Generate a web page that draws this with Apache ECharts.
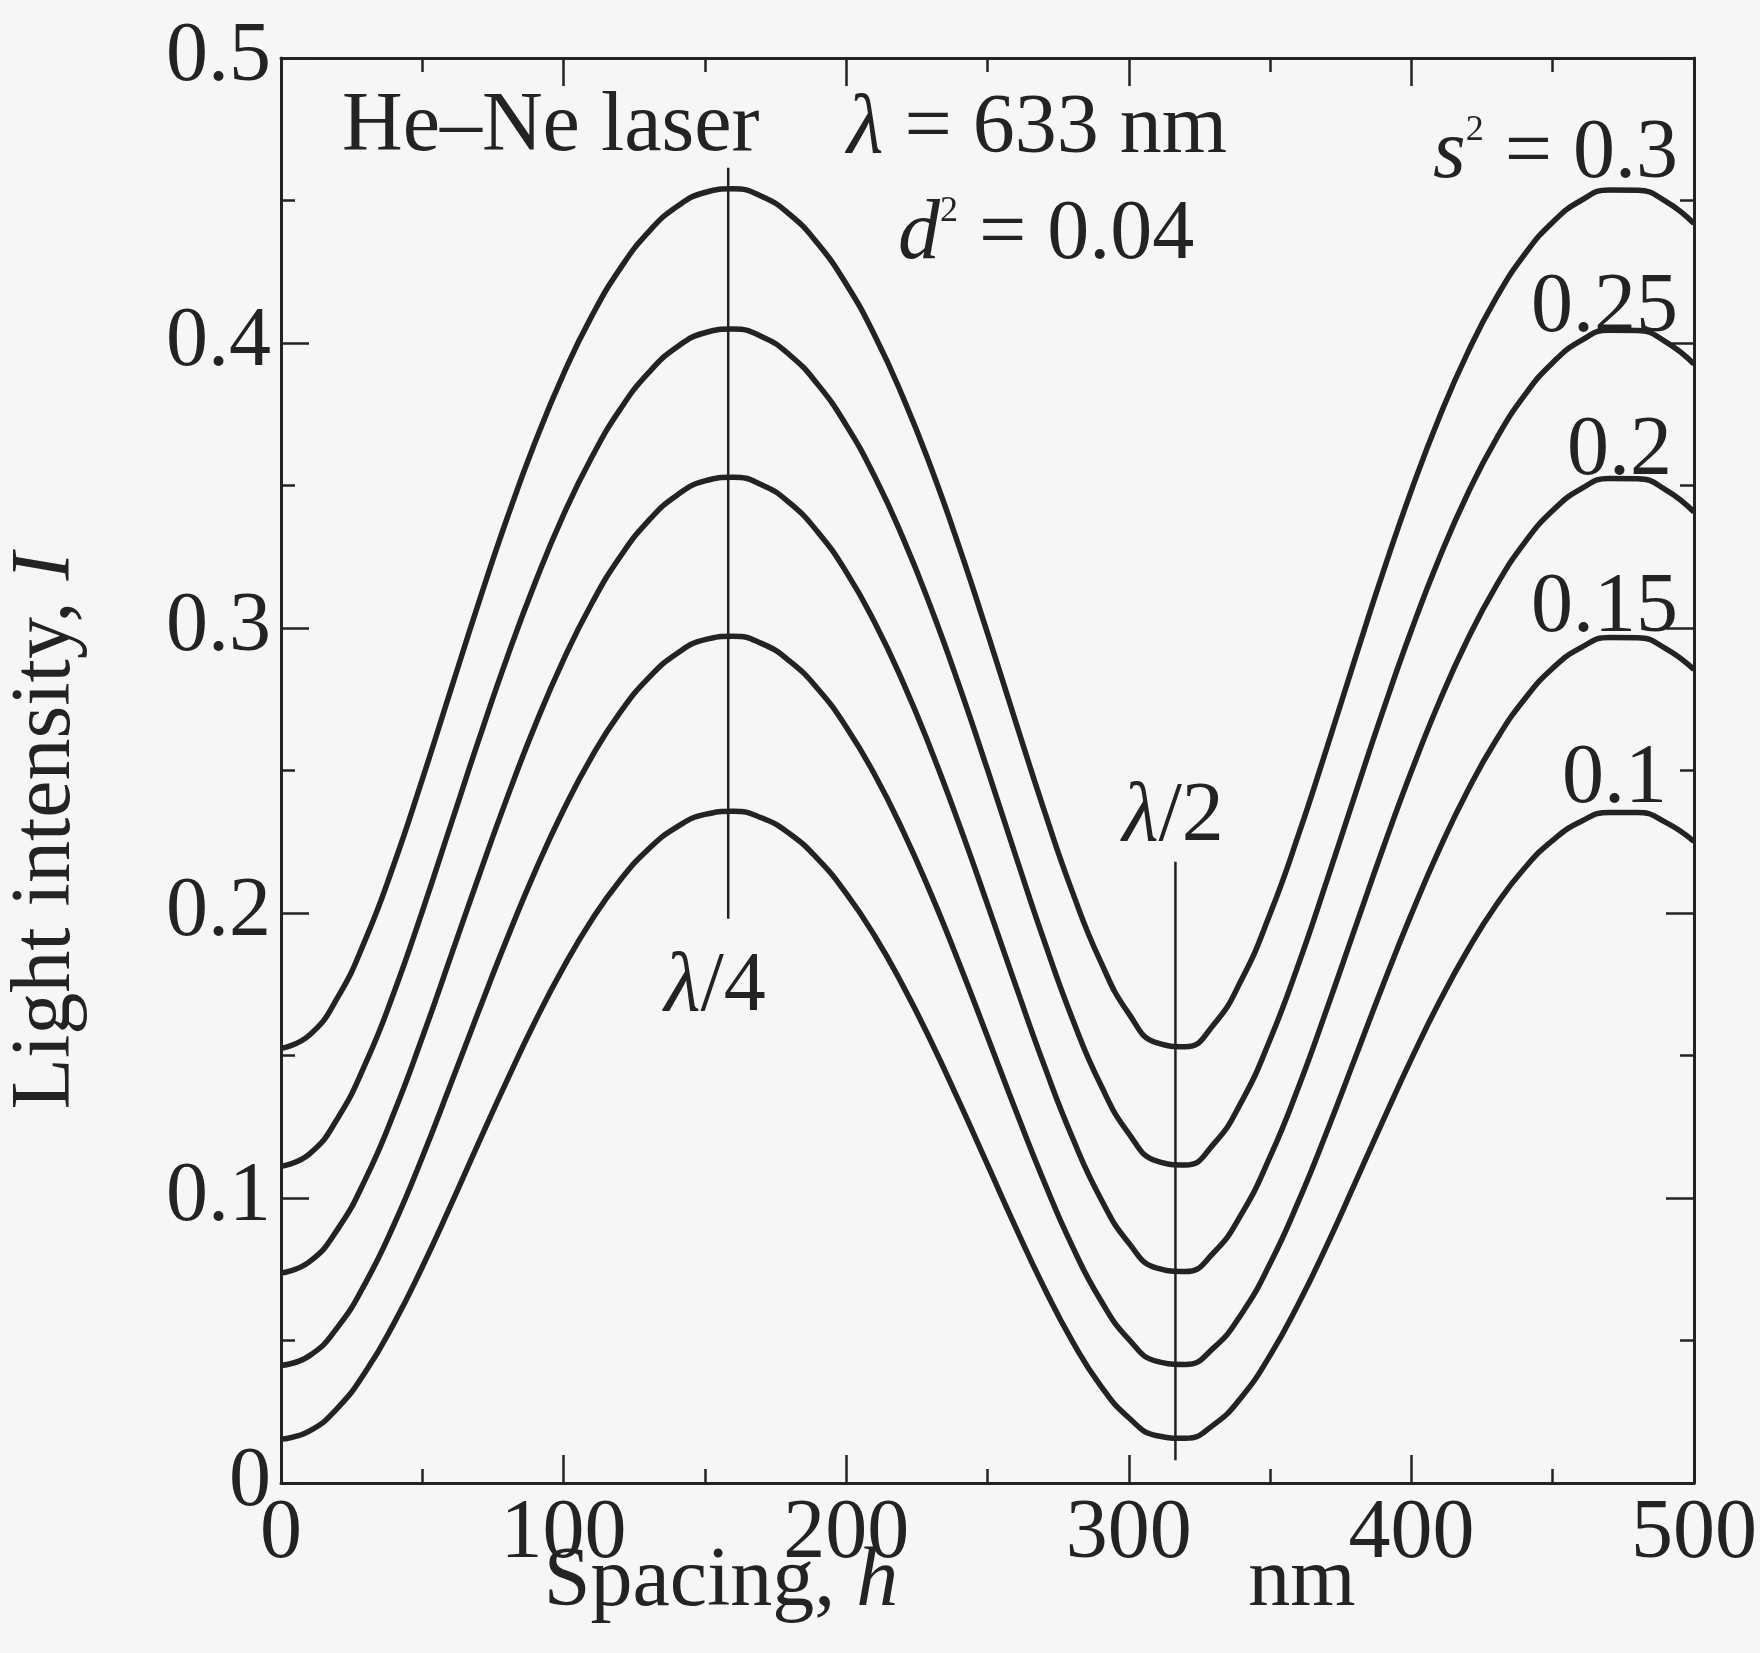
<!DOCTYPE html>
<html>
<head>
<meta charset="utf-8">
<script src="https://cdn.jsdelivr.net/npm/echarts@6/dist/echarts.min.js"></script>
<style>
  html, body { margin: 0; padding: 0; background: #f6f6f6; }
  #chart { width: 1760px; height: 1653px; }
</style>
</head>
<body>
<div id="chart"></div>
<script>
// spacing h (nm) and light intensity I for each s^2
var spacing = [0, 10, 20, 30, 40, 50, 60, 70, 80, 90, 100, 110, 120, 130, 140, 150,
  160, 170, 180, 190, 200, 210, 220, 230, 240, 250, 260, 270, 280, 290, 300, 310,
  320, 330, 340, 350, 360, 370, 380, 390, 400, 410, 420, 430, 440, 450, 460, 470,
  480, 490, 500];

var s30 = [0.1525, 0.1571, 0.1703, 0.1910, 0.2172, 0.2469, 0.2780, 0.3090, 0.3385,
  0.3654, 0.3892, 0.4095, 0.4261, 0.4389, 0.4478, 0.4528, 0.4541, 0.4515, 0.4451,
  0.4348, 0.4207, 0.4028, 0.3812, 0.3563, 0.3284, 0.2982, 0.2670, 0.2362, 0.2075,
  0.1830, 0.1647, 0.1544, 0.1531, 0.1608, 0.1768, 0.1997, 0.2273, 0.2577, 0.2890,
  0.3196, 0.3483, 0.3742, 0.3968, 0.4158, 0.4310, 0.4424, 0.4500, 0.4537, 0.4536,
  0.4497, 0.4419];
var s25 = [0.1111, 0.1154, 0.1279, 0.1474, 0.1722, 0.2006, 0.2307, 0.2608, 0.2896,
  0.3161, 0.3398, 0.3600, 0.3767, 0.3895, 0.3985, 0.4036, 0.4049, 0.4023, 0.3958,
  0.3854, 0.3712, 0.3533, 0.3318, 0.3071, 0.2797, 0.2503, 0.2200, 0.1904, 0.1630,
  0.1398, 0.1226, 0.1129, 0.1116, 0.1189, 0.1340, 0.1556, 0.1819, 0.2111, 0.2413,
  0.2711, 0.2992, 0.3248, 0.3473, 0.3663, 0.3816, 0.3931, 0.4008, 0.4045, 0.4044,
  0.4004, 0.3926];
var s20 = [0.0737, 0.0776, 0.0890, 0.1069, 0.1299, 0.1563, 0.1845, 0.2129, 0.2404,
  0.2660, 0.2889, 0.3087, 0.3250, 0.3376, 0.3465, 0.3516, 0.3529, 0.3503, 0.3439,
  0.3336, 0.3197, 0.3021, 0.2812, 0.2573, 0.2310, 0.2030, 0.1745, 0.1467, 0.1213,
  0.0999, 0.0842, 0.0754, 0.0742, 0.0808, 0.0946, 0.1145, 0.1388, 0.1661, 0.1945,
  0.2228, 0.2497, 0.2744, 0.2962, 0.3148, 0.3299, 0.3412, 0.3488, 0.3525, 0.3524,
  0.3485, 0.3407];
var s15 = [0.0412, 0.0446, 0.0546, 0.0704, 0.0907, 0.1143, 0.1398, 0.1657, 0.1910,
  0.2148, 0.2362, 0.2549, 0.2704, 0.2824, 0.2910, 0.2959, 0.2971, 0.2946, 0.2884,
  0.2786, 0.2653, 0.2487, 0.2290, 0.2067, 0.1823, 0.1566, 0.1307, 0.1058, 0.0831,
  0.0642, 0.0504, 0.0427, 0.0416, 0.0474, 0.0595, 0.0770, 0.0987, 0.1231, 0.1489,
  0.1748, 0.1996, 0.2226, 0.2431, 0.2607, 0.2750, 0.2859, 0.2931, 0.2967, 0.2966,
  0.2928, 0.2854];
var s10 = [0.0154, 0.0182, 0.0263, 0.0392, 0.0561, 0.0758, 0.0973, 0.1195, 0.1413,
  0.1621, 0.1810, 0.1976, 0.2115, 0.2224, 0.2301, 0.2346, 0.2357, 0.2334, 0.2278,
  0.2189, 0.2069, 0.1921, 0.1746, 0.1550, 0.1337, 0.1117, 0.0896, 0.0686, 0.0498,
  0.0342, 0.0229, 0.0166, 0.0157, 0.0204, 0.0303, 0.0448, 0.0628, 0.0832, 0.1051,
  0.1272, 0.1488, 0.1690, 0.1871, 0.2028, 0.2157, 0.2255, 0.2321, 0.2353, 0.2353,
  0.2318, 0.2251];

// the lambda/4 and lambda/2 marker lines
var quarterLine = [[158.25, 0.198], [158.25, 0.4615]];
var halfLine = [[316.5, 0.008], [316.5, 0.218]];

var curveNames = ['0.3', '0.25', '0.2', '0.15', '0.1'];
var curveValues = [s30, s25, s20, s15, s10];

var FONT = '"Liberation Serif", "Times New Roman", serif';
var INK = '#232323';

function pairs(ys) {
  return spacing.map(function (h, i) { return [h, ys[i]]; });
}

var chart = echarts.init(document.getElementById('chart'));

var series = curveValues.map(function (ys, i) {
  return {
    name: curveNames[i],
    type: 'line',
    data: pairs(ys),
    smooth: 0.5,
    smoothMonotone: 'none',
    showSymbol: false,
    lineStyle: { color: INK, width: 5.5 }
  };
});
[quarterLine, halfLine].forEach(function (pts) {
  series.push({
    type: 'line',
    data: pts,
    showSymbol: false,
    lineStyle: { color: INK, width: 2.5 }
  });
});

var frame = { show: true, onZero: false, lineStyle: { color: INK, width: 3 } };
var majorTick = { show: true, inside: true, length: 28, lineStyle: { color: INK, width: 2.5 } };
var minorTick = { show: true, splitNumber: 2, length: 14, lineStyle: { color: INK, width: 2.5 } };
var tickFont = { color: INK, fontFamily: FONT, fontSize: 84 };

function text(x, y, str, align, extra) {
  var el = {
    type: 'text',
    x: x,
    y: y,
    style: {
      text: str,
      font: '84px ' + FONT,
      fill: INK,
      textAlign: align || 'left',
      textVerticalAlign: 'middle',
      align: align || 'left',
      verticalAlign: 'middle',
      rich: {
        i: { fontFamily: FONT, fontSize: 84, fontStyle: 'italic', fill: INK },
        sup: { fontFamily: FONT, fontSize: 36, fill: INK, verticalAlign: 'top', lineHeight: 40 }
      }
    }
  };
  if (extra) Object.assign(el, extra);
  return el;
}

var option = {
  backgroundColor: '#f6f6f6',
  animation: false,
  grid: { left: 281, right: 58, top: 58, bottom: 170 },
  xAxis: [
    {
      type: 'value', position: 'bottom', min: 0, max: 500, interval: 100,
      axisLine: frame, axisTick: majorTick, minorTick: minorTick,
      splitLine: { show: false },
      axisLabel: Object.assign({ margin: 10 }, tickFont)
    },
    {
      type: 'value', position: 'top', min: 0, max: 500, interval: 100,
      axisLine: frame, axisTick: majorTick, minorTick: minorTick,
      splitLine: { show: false }, axisLabel: { show: false }
    }
  ],
  yAxis: [
    {
      type: 'value', position: 'left', min: 0, max: 0.5, interval: 0.1,
      axisLine: frame, axisTick: majorTick, minorTick: minorTick,
      splitLine: { show: false },
      axisLabel: Object.assign({ margin: 10 }, tickFont)
    },
    {
      type: 'value', position: 'right', min: 0, max: 0.5, interval: 0.1,
      axisLine: frame, axisTick: majorTick, minorTick: minorTick,
      splitLine: { show: false }, axisLabel: { show: false }
    }
  ],
  series: series,
  graphic: [
    text(342, 128, 'He\u2013Ne laser'),
    text(847, 130, '{i|\u03bb} = 633 nm'),
    text(898, 236, '{i|d}{sup|2} = 0.04'),
    text(1678, 155, '{i|s}{sup|2} = ' + curveNames[0], 'right'),
    text(1678, 309, curveNames[1], 'right'),
    text(1672, 452, curveNames[2], 'right'),
    text(1678, 609, curveNames[3], 'right'),
    text(1667, 780, curveNames[4], 'right'),
    text(715, 988, '{i|\u03bb}/4', 'center'),
    text(1173, 818, '{i|\u03bb}/2', 'center'),
    text(721, 1583, 'Spacing, {i|h}', 'center'),
    text(1302, 1583, 'nm', 'center'),
    text(47, 831, 'Light intensity, {i|I}', 'center', { rotation: Math.PI / 2 })
  ]
};

chart.setOption(option);
</script>
</body>
</html>
